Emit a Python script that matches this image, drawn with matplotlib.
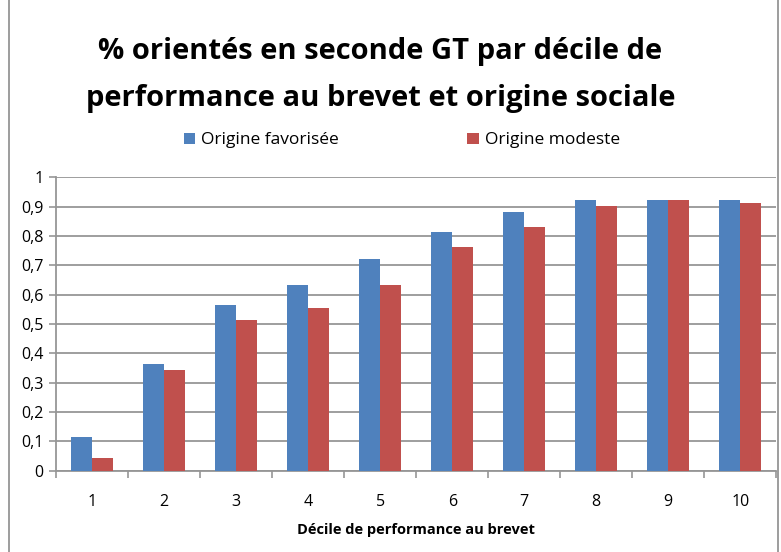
import matplotlib.pyplot as plt
import numpy as np
from matplotlib.patches import Rectangle

deciles = ['1', '2', '3', '4', '5', '6', '7', '8', '9', '10']
favorisee = [0.115, 0.363, 0.565, 0.633, 0.721, 0.813, 0.882, 0.922, 0.922, 0.922]
modeste = [0.043, 0.343, 0.515, 0.555, 0.633, 0.762, 0.831, 0.902, 0.922, 0.912]
yticks = [0, 0.1, 0.2, 0.3, 0.4, 0.5, 0.6, 0.7, 0.8, 0.9, 1]
ylabels = ['0', '0,1', '0,2', '0,3', '0,4', '0,5', '0,6', '0,7', '0,8', '0,9', '1']

BLUE = '#4f81bd'
RED = '#c0504d'
GRID = '#969696'

plt.rcParams['font.family'] = ['Open Sans', 'DejaVu Sans']

fig = plt.figure(figsize=(7.81, 5.52), dpi=100)
fig.patches.append(Rectangle((0.011, -0.01), 0.985, 1.02, transform=fig.transFigure,
                             fill=False, edgecolor='#8c8c8c', linewidth=1.2))

ax = fig.add_axes([0.072, 0.147, 0.922, 0.532])

x = np.arange(len(deciles))
w = 0.29
ax.bar(x - w / 2, favorisee, w, color=BLUE, label='Origine favorisée', zorder=3)
ax.bar(x + w / 2, modeste, w, color=RED, label='Origine modeste', zorder=3)

ax.set_xlim(-0.5, len(deciles) - 0.5)
ax.set_ylim(0, 1)
ax.set_yticks(yticks)
ax.set_yticklabels(ylabels)
ax.set_xticks(x)
ax.set_xticklabels(deciles)
ax.set_xticks(np.arange(-0.5, len(deciles)), minor=True)
ax.tick_params(axis='x', which='major', length=0, pad=17, labelsize=11.5)
ax.tick_params(axis='x', which='minor', length=5, width=1.2, color=GRID)
ax.tick_params(axis='y', length=5, width=1.2, color=GRID, labelsize=11.5, pad=4)
ax.yaxis.grid(True, color=GRID, linewidth=1.3, zorder=0)

for s in ['top', 'right']:
    ax.spines[s].set_visible(False)
ax.spines['left'].set_color(GRID)
ax.spines['bottom'].set_color(GRID)
ax.spines['left'].set_linewidth(1.3)
ax.spines['bottom'].set_linewidth(1.3)

ax.set_xlabel('Décile de performance au brevet', fontsize=10.5, fontweight='bold', labelpad=9)

fig.text(0.487, 0.907, '% orientés en seconde GT par décile de', ha='center', va='center',
         fontsize=21, fontweight='bold')
fig.text(0.487, 0.822, 'performance au brevet et origine sociale', ha='center', va='center',
         fontsize=21, fontweight='bold')

ax.legend(loc='center', bbox_to_anchor=(0.48, 1.125), ncol=2, frameon=False,
          fontsize=12.5, handlelength=0.65, handleheight=0.65, handletextpad=0.35,
          columnspacing=7.4)

fig.savefig('out.png', dpi=100)
